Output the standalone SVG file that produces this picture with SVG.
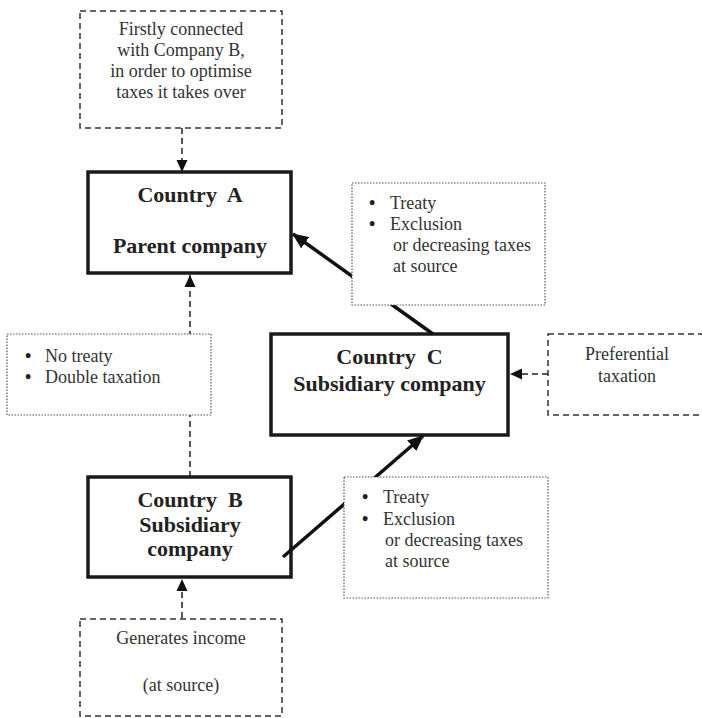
<svg xmlns="http://www.w3.org/2000/svg" width="702" height="718" viewBox="0 0 702 718">
<style>
  .main { fill: #fff; stroke: #1a1a1a; stroke-width: 3.5; }
  .dash { fill: #fff; stroke: #333; stroke-width: 1.5; stroke-dasharray: 6 4; }
  .dot { fill: #fff; stroke: #555; stroke-width: 1.2; stroke-dasharray: 1.5 1.5; }
  .bold { font-family: "Liberation Serif", "Times New Roman", serif; font-weight: bold; font-size: 22px; fill: #222; text-anchor: middle; white-space: pre; }
  .reg { font-family: "Liberation Serif", "Times New Roman", serif; font-size: 18px; fill: #333; }
  .bul { font-family: "Liberation Serif", "Times New Roman", serif; font-size: 18px; font-weight: bold; fill: #222; }
  .mid { text-anchor: middle; }
  .solid { stroke: #111; stroke-width: 3.5; fill: none; }
  .dline { stroke: #222; stroke-width: 1.5; stroke-dasharray: 6 4; fill: none; }
</style>
<defs>
  <marker id="big" markerUnits="userSpaceOnUse" markerWidth="16" markerHeight="14" refX="15" refY="7" orient="auto">
    <path d="M0,0 L16,7 L0,14 Z" fill="#111"/>
  </marker>
  <marker id="small" markerUnits="userSpaceOnUse" markerWidth="12" markerHeight="12" refX="12" refY="6" orient="auto">
    <path d="M0,0.5 L12,6 L0,11.5 Z" fill="#111"/>
  </marker>
</defs>
<rect width="702" height="718" fill="#fff"/>

<g id="country-a">
  <rect class="main" x="88" y="172" width="203" height="101"/>
  <text class="bold" x="190" y="202">Country  A</text>
  <text class="bold" x="190" y="253">Parent company</text>
</g>
<g id="country-c">
  <rect class="main" x="271" y="334" width="237" height="101"/>
  <text class="bold" x="389.5" y="364">Country  C</text>
  <text class="bold" x="389.5" y="391">Subsidiary company</text>
</g>
<g id="country-b">
  <rect class="main" x="88" y="477" width="203" height="100"/>
  <text class="bold" x="190" y="507">Country  B</text>
  <text class="bold" x="190" y="532">Subsidiary</text>
  <text class="bold" x="190" y="556">company</text>
</g>

<g id="connectors">
  <line class="dline" x1="182" y1="128" x2="182" y2="172" marker-end="url(#small)"/>
  <line class="dline" x1="190" y1="477" x2="190" y2="275" marker-end="url(#small)"/>
  <line class="dline" x1="182" y1="618" x2="182" y2="579" marker-end="url(#small)"/>
  <line class="dline" x1="548" y1="374" x2="510" y2="374" marker-end="url(#small)"/>
  <line class="solid" x1="433" y1="334" x2="293" y2="234" marker-end="url(#big)"/>
  <line class="solid" x1="283" y1="557" x2="423" y2="436" marker-end="url(#big)"/>
</g>

<g id="note-top">
  <rect class="dash" x="80" y="11" width="202" height="117"/>
  <text class="reg mid" x="181" y="35">Firstly connected</text>
  <text class="reg mid" x="181" y="56">with Company B,</text>
  <text class="reg mid" x="181" y="77">in order to optimise</text>
  <text class="reg mid" x="181" y="98">taxes it takes over</text>
</g>
<g id="note-treaty-ac">
  <rect class="dot" x="352" y="183" width="193" height="122"/>
  <text class="bul" x="369" y="209">•</text>
  <text class="reg" x="390" y="209">Treaty</text>
  <text class="bul" x="369" y="230">•</text>
  <text class="reg" x="390" y="230">Exclusion</text>
  <text class="reg" x="393" y="251">or decreasing taxes</text>
  <text class="reg" x="393" y="272">at source</text>
</g>
<g id="note-no-treaty">
  <rect class="dot" x="7" y="334" width="204" height="81"/>
  <text class="bul" x="25" y="362">•</text>
  <text class="reg" x="45" y="362">No treaty</text>
  <text class="bul" x="25" y="383">•</text>
  <text class="reg" x="45" y="383">Double taxation</text>
</g>
<g id="note-preferential">
  <rect class="dash" x="548" y="334" width="160" height="81"/>
  <text class="reg mid" x="627" y="360">Preferential</text>
  <text class="reg mid" x="627" y="382">taxation</text>
</g>
<g id="note-treaty-bc">
  <rect class="dot" x="344" y="477" width="204" height="121"/>
  <text class="bul" x="362" y="503">•</text>
  <text class="reg" x="383" y="503">Treaty</text>
  <text class="bul" x="362" y="525">•</text>
  <text class="reg" x="383" y="525">Exclusion</text>
  <text class="reg" x="385" y="546">or decreasing taxes</text>
  <text class="reg" x="385" y="567">at source</text>
</g>
<g id="note-income">
  <rect class="dash" x="80" y="619" width="202" height="97"/>
  <text class="reg mid" x="181" y="644">Generates income</text>
  <text class="reg mid" x="181" y="691">(at source)</text>
</g>
</svg>
